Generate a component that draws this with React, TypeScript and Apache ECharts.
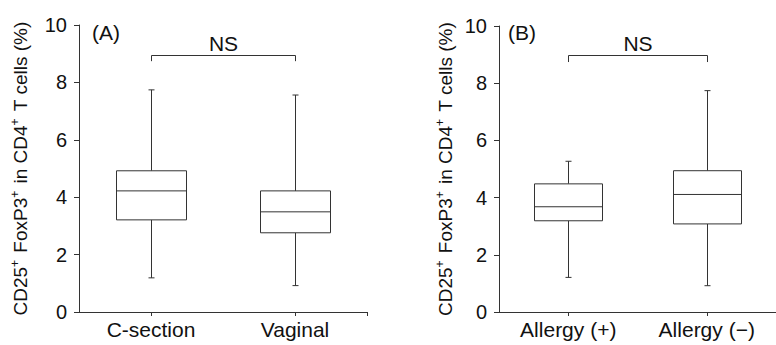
import React, { useEffect, useRef } from "react";
import * as echarts from "echarts";

// ---- data ----
const panelACategories = ["C-section", "Vaginal"];
const panelBCategories = ["Allergy (+)", "Allergy (−)"];
// [min, Q1, median, Q3, max]
const panelAStats = [
  [1.19, 3.21, 4.22, 4.92, 7.74],
  [0.92, 2.76, 3.49, 4.22, 7.56],
];
const panelBStats = [
  [1.21, 3.19, 3.68, 4.48, 5.27],
  [0.92, 3.08, 4.11, 4.94, 7.74],
];
const panelLabels = ["(A)", "(B)"];
const bracketLabels = ["NS", "NS"];
// [fromIndex, toIndex, top, dropTo]
const bracketA = [0, 1, 8.97, 8.74];
const bracketB = [0, 1, 8.97, 8.74];
const yMin = 0;
const yMax = 10;
const yInterval = 2;

const FONT = "'Liberation Sans', Arial, Helvetica, sans-serif";
const LINE = "#333";
const TEXT = "#111";

const boxRender = (params: any, api: any) => {
  const xi = api.value(0);
  const ys = [1, 2, 3, 4, 5].map((k) => api.coord([xi, api.value(k)])[1]);
  const cx = Math.round(api.coord([xi, 0])[0]) + 0.5;
  const half = Math.round(api.size([1, 0])[0] * 0.245);
  const cap = 3;
  const st = { stroke: LINE, lineWidth: 1, fill: "none" };
  return {
    type: "group",
    children: [
      { type: "line", shape: { x1: cx, y1: ys[4], x2: cx, y2: ys[3] }, style: st },
      { type: "line", shape: { x1: cx, y1: ys[1], x2: cx, y2: ys[0] }, style: st },
      { type: "line", shape: { x1: cx - cap, y1: ys[4], x2: cx + cap, y2: ys[4] }, style: st },
      { type: "line", shape: { x1: cx - cap, y1: ys[0], x2: cx + cap, y2: ys[0] }, style: st },
      {
        type: "rect",
        shape: { x: cx - half, y: ys[3], width: half * 2, height: ys[1] - ys[3] },
        style: { stroke: LINE, lineWidth: 1, fill: "#fff" },
      },
      { type: "line", shape: { x1: cx - half, y1: ys[2], x2: cx + half, y2: ys[2] }, style: st },
    ],
  };
};

const bracketRender = (label: string) => (params: any, api: any) => {
  const a = api.coord([api.value(0), api.value(2)]);
  const b = api.coord([api.value(1), api.value(2)]);
  const yd = api.coord([api.value(0), api.value(3)])[1];
  const x1 = Math.round(a[0]) + 0.5;
  const x2 = Math.round(b[0]) + 0.5;
  const yt = Math.round(a[1]) + 0.5;
  return {
    type: "group",
    children: [
      {
        type: "polyline",
        shape: { points: [[x1, yd], [x1, yt], [x2, yt], [x2, yd]] },
        style: { stroke: LINE, lineWidth: 1, fill: "none" },
      },
      {
        type: "text",
        style: {
          text: label,
          x: (x1 + x2) / 2,
          y: yt - 12,
          align: "center",
          verticalAlign: "middle",
          fontSize: 21,
          fontFamily: FONT,
          fill: TEXT,
        },
      },
    ],
  };
};

const yName = "CD25{sup|+} FoxP3{sup|+} in CD4{sup|+} T cells (%)";

const makeY = (gridIndex: number, nameGap: number) => ({
  type: "value",
  gridIndex,
  min: yMin,
  max: yMax,
  interval: yInterval,
  splitLine: { show: false },
  axisLine: { show: true, lineStyle: { color: LINE, width: 1 } },
  axisTick: { show: true, length: 5, lineStyle: { color: LINE } },
  axisLabel: { fontSize: 20, color: TEXT, margin: 12, fontFamily: FONT },
  name: yName,
  nameLocation: "middle",
  nameRotate: 90,
  nameGap,
  nameTextStyle: {
    fontSize: 19,
    color: TEXT,
    fontFamily: FONT,
    rich: {
      sup: { fontSize: 12, padding: [0, 2, 10, 0], color: TEXT, fontFamily: FONT },
    },
  },
});

const makeX = (gridIndex: number, data: string[]) => ({
  type: "category",
  gridIndex,
  data,
  boundaryGap: true,
  axisLine: { show: true, lineStyle: { color: LINE, width: 1 } },
  axisTick: { show: true, alignWithLabel: true, length: 4, lineStyle: { color: LINE } },
  axisLabel: { fontSize: 21, color: TEXT, margin: 7, fontFamily: FONT },
});

export default function App() {
  const ref = useRef<HTMLDivElement>(null);
  useEffect(() => {
    if (!ref.current) return;
    const chart = echarts.init(ref.current, null, { renderer: "svg" });
    chart.setOption({
      animation: false,
      backgroundColor: "#fff",
      textStyle: { fontFamily: FONT },
      grid: [
        { left: 79, top: 25, width: 288, height: 287 },
        { left: 499, top: 26, width: 288, height: 286 },
      ],
      xAxis: [makeX(0, panelACategories), makeX(1, panelBCategories)],
      yAxis: [makeY(0, 48), makeY(1, 43)],
      series: [
        {
          type: "custom",
          xAxisIndex: 0,
          yAxisIndex: 0,
          renderItem: boxRender,
          encode: { x: 0, y: [1, 2, 3, 4, 5] },
          data: panelAStats.map((s, i) => [i, ...s]),
          silent: true,
        },
        {
          type: "custom",
          xAxisIndex: 1,
          yAxisIndex: 1,
          renderItem: boxRender,
          encode: { x: 0, y: [1, 2, 3, 4, 5] },
          data: panelBStats.map((s, i) => [i, ...s]),
          silent: true,
        },
        {
          type: "custom",
          xAxisIndex: 0,
          yAxisIndex: 0,
          renderItem: bracketRender(bracketLabels[0]),
          encode: { x: [0, 1], y: [2, 3] },
          data: [bracketA],
          silent: true,
        },
        {
          type: "custom",
          xAxisIndex: 1,
          yAxisIndex: 1,
          renderItem: bracketRender(bracketLabels[1]),
          encode: { x: [0, 1], y: [2, 3] },
          data: [bracketB],
          silent: true,
        },
      ],
      graphic: [
        {
          type: "text",
          left: 92,
          top: 22,
          style: { text: panelLabels[0], fontSize: 21, fontFamily: FONT, fill: TEXT },
        },
        {
          type: "text",
          left: 508,
          top: 22,
          style: { text: panelLabels[1], fontSize: 21, fontFamily: FONT, fill: TEXT },
        },
        {
          type: "line",
          shape: { x1: 367.5, y1: 312, x2: 367.5, y2: 316 },
          style: { stroke: LINE, lineWidth: 1 },
        },
      ],
    });
    return () => chart.dispose();
  }, []);
  return (
    <div
      ref={ref}
      style={{ position: "fixed", left: 0, top: 0, width: 776, height: 345, background: "#fff" }}
    />
  );
}
